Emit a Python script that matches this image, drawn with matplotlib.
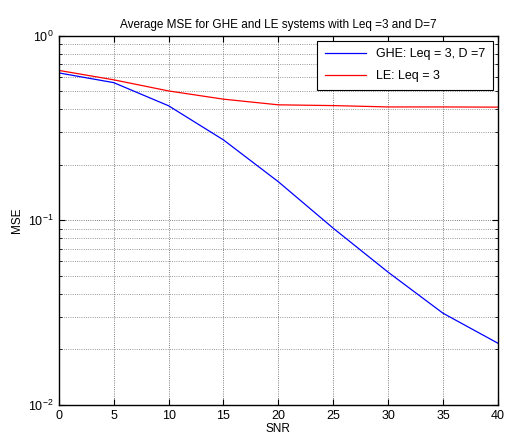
import matplotlib
matplotlib.use('Agg')
import matplotlib.pyplot as plt
from matplotlib.ticker import LogLocator, FixedLocator, NullFormatter

plt.rcParams['font.family'] = ['Liberation Sans', 'DejaVu Sans']
plt.rcParams['font.size'] = 8

# Données
snr = [0, 5, 10, 15, 20, 25, 30, 35, 40]
mse_ghe = [0.63, 0.558, 0.418, 0.273, 0.162, 0.0907, 0.0524, 0.0314, 0.0216]
mse_le = [0.65, 0.578, 0.503, 0.454, 0.423, 0.419, 0.412, 0.412, 0.411]

fig = plt.figure(figsize=(5.07, 4.43), dpi=100)
ax = fig.add_axes([0.116, 0.086, 0.866, 0.833])

ax.semilogy(snr, mse_ghe, color='#0000ff', lw=0.9, label='GHE: Leq = 3, D =7')
ax.semilogy(snr, mse_le, color='#ff0000', lw=0.9, label='LE: Leq = 3')

ax.set_xlim(0, 40)
ax.set_ylim(1e-2, 1e0)
ax.xaxis.set_major_locator(FixedLocator(snr))
ax.yaxis.set_major_locator(LogLocator(base=10))
ax.yaxis.set_minor_locator(LogLocator(base=10, subs=range(2, 10)))
ax.yaxis.set_minor_formatter(NullFormatter())

ax.grid(True, which='major', color='#555555', ls=':', lw=0.6)
ax.grid(True, which='minor', axis='y', color='#777777', ls=':', lw=0.6)

ax.tick_params(which='both', direction='in', top=True, right=True, labelsize=9)
ax.tick_params(which='major', length=4)
ax.tick_params(which='minor', length=2)
for s in ax.spines.values():
    s.set_linewidth(1.0)

ax.set_title('Average MSE for GHE and LE systems with Leq =3 and D=7', fontsize=8.5, pad=6)
ax.set_xlabel('SNR', fontsize=8.5, labelpad=1)
ax.set_ylabel('MSE', fontsize=8.5)

leg = ax.legend(loc='upper right', fancybox=False, framealpha=1, edgecolor='black',
                fontsize=9, handlelength=3.3, borderaxespad=0.4,
                labelspacing=0.8, borderpad=0.6)
leg.get_frame().set_linewidth(0.8)

fig.savefig('out.png', dpi=100)
